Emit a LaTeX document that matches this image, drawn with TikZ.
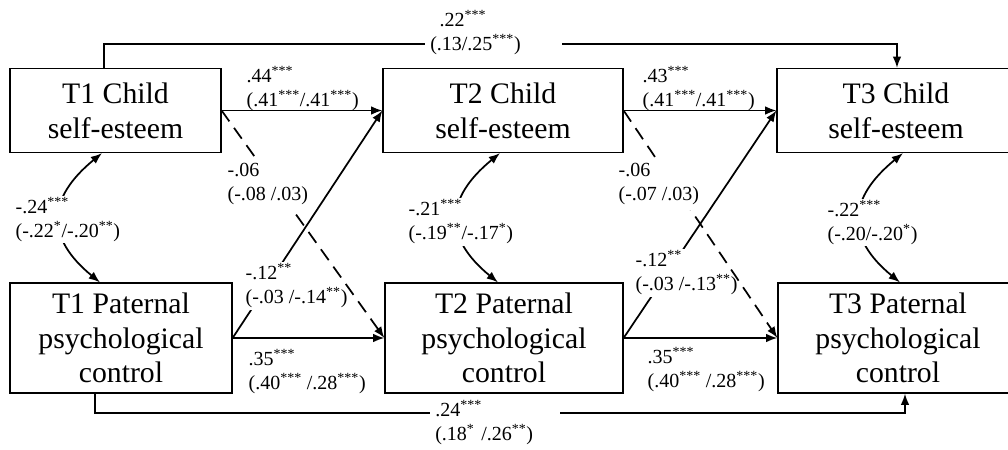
\documentclass[tikz,border=0pt]{standalone}
\usepackage{fontspec}
\setmainfont{Liberation Serif}
\usetikzlibrary{arrows.meta,calc}
\newcommand\st[1]{\textsuperscript{#1}}
\begin{document}
\begin{tikzpicture}[x=0.75pt,y=-0.75pt,
  box/.style={draw,line width=0.9pt,inner sep=0pt,align=center,font=\fontsize{22.3}{26}\selectfont},
  cbox/.style={box,minimum height=63pt},
  pbox/.style={box,minimum height=82.5pt},
  lab/.style={inner sep=1pt,align=left,anchor=west,font=\fontsize{15}{18}\selectfont},
  wlab/.style={lab,fill=white},
  arr/.style={line width=1.3pt,-{Latex[length=8.5pt,width=6.5pt]}},
  dsh/.style={arr,dash pattern=on 10pt off 6pt},
  corr/.style={line width=1.3pt,{Latex[length=8.5pt,width=6.5pt]}-{Latex[length=8.5pt,width=6.5pt]}},
  blab/.style={lab,fill=white,inner xsep=3.75pt,text width=90pt}
]
\useasboundingbox (0,0) rectangle (1008,450);
\clip (0,0) rectangle (1008,450);

% boxes
\node[cbox,minimum width=158.25pt] (c1) at (115.5,110.5) {T1 Child\\self-esteem};
\node[cbox,minimum width=180pt] (c2) at (503,110.5) {T2 Child\\self-esteem};
\node[cbox,minimum width=178.5pt] (c3) at (896,110.5) {T3 Child\\self-esteem};
\node[pbox,minimum width=166.5pt] (p1) at (121,338) {T1 Paternal\\psychological\\control};
\node[pbox,minimum width=178.5pt] (p2) at (504,338) {T2 Paternal\\psychological\\control};
\node[pbox,minimum width=180pt] (p3) at (898,338) {T3 Paternal\\psychological\\control};

% stability paths
\draw[arr] (c1.east) -- (c2.west);
\draw[arr] (c2.east) -- (c3.west);
\draw[arr] (p1.east) -- (p2.west);
\draw[arr] (p2.east) -- (p3.west);

% solid cross-lagged
\draw[arr] (p1.east) -- (c2.west);
\draw[arr] (p2.east) -- (c3.west);
\node[wlab] (l12a) at (244,286) {-.12\st{**}\\(-.03 /-.14\st{**})};
\node[wlab] (l12b) at (634,273) {-.12\st{**}\\(-.03 /-.13\st{**})};

% dashed cross-lagged
\draw[dsh] (c1.east) -- (p2.west);
\draw[dsh] (c2.east) -- (p3.west);
\node[wlab,inner ysep=4pt] (l06a) at (226,183.5) {-.06\\(-.08 /.03)};
\node[wlab,inner ysep=4pt] (l06b) at (617,184) {-.06\\(-.07 /.03)};

% horizontal labels
\node[lab] (l44) at (245,88.5) {.44\st{***}\\(.41\st{***}/.41\st{***})};
\node[lab] (l43) at (641,88.5) {.43\st{***}\\(.41\st{***}/.41\st{***})};
\node[lab] (l35a) at (247,371.5) {.35\st{***}\\(.40\st{***} /.28\st{***})};
\node[lab] (l35b) at (646,370) {.35\st{***}\\(.40\st{***} /.28\st{***})};

% top long path
\coordinate (ta) at (104,44);
\coordinate (tb) at (897,44);
\draw[arr] (ta |- c1.north) -- (ta) -- (tb) -- (tb |- c3.north);
\node[blab,text width=95pt] (ltop) at (425,32.5) {\hspace*{7pt}.22\st{***}\\(.13/.25\st{***})};

% bottom long path
\coordinate (ba) at (95,413);
\coordinate (bb) at (905,413);
\draw[arr] (ba |- p1.south) -- (ba) -- (bb) -- (bb |- p3.south);
\node[blab] (lbot) at (430,423) {.24\st{***}\\(.18\st{*} /.26\st{**})};

% correlations
\coordinate (k1a) at ($(c1.south)+(-13.5,0)$);
\coordinate (k1b) at ($(p1.north)+(-21,0)$);
\coordinate (k2a) at ($(c2.south)+(-3,0)$);
\coordinate (k2b) at ($(p2.north)+(-6,0)$);
\coordinate (k3a) at ($(c3.south)+(7,0)$);
\coordinate (k3b) at ($(p3.north)+(2,0)$);
\draw[corr] (k1a) .. controls +(-55,45) and +(-55,-45) .. (k1b);
\draw[corr] (k2a) .. controls +(-55,45) and +(-55,-45) .. (k2b);
\draw[corr] (k3a) .. controls +(-55,45) and +(-55,-45) .. (k3b);
\node[wlab] (r1) at (14,219.5) {-.24\st{***}\\(-.22\st{*}/-.20\st{**})};
\node[wlab] (r2) at (407,222) {-.21\st{***}\\(-.19\st{**}/-.17\st{*})};
\node[wlab] (r3) at (826,222.5) {-.22\st{***}\\(-.20/-.20\st{*})};
\end{tikzpicture}
\end{document}
